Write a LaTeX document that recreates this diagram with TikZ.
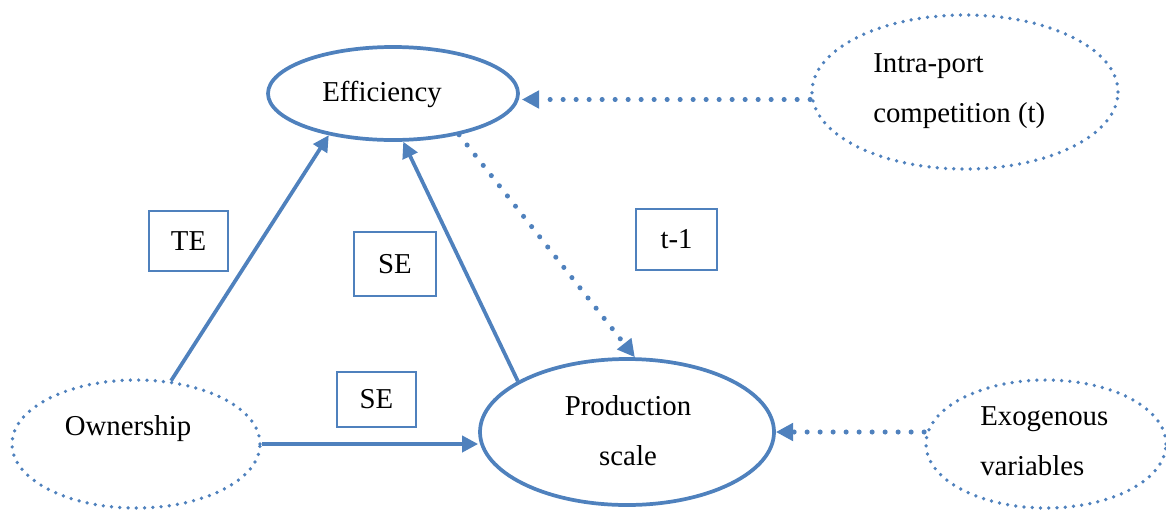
\documentclass[tikz,border=0pt]{standalone}
\usepackage{fontspec}
\setmainfont{Liberation Serif}
\usetikzlibrary{shapes.geometric,arrows.meta,calc}
\definecolor{ublue}{RGB}{79,129,189}
\begin{document}
\begin{tikzpicture}[x=0.75pt,y=-0.75pt,
  every node/.style={font=\fontsize{21.6}{26}\selectfont, text=black},
  solidell/.style={ellipse, draw=ublue, line width=2.8pt, inner sep=0pt},
  dotell/.style={ellipse, draw=ublue, line width=2.8pt, dash pattern=on 0pt off 6.2pt, line cap=round, inner sep=0pt},
  labbox/.style={rectangle, draw=ublue, line width=2pt, inner sep=0pt},
  solidarrow/.style={draw=ublue, line width=2.8pt, -{Triangle[length=12pt,width=12pt]}},
  dotarrow/.style={draw=ublue, line width=3.8pt, dash pattern=on 0pt off 9.75pt, line cap=round, -{Triangle[length=13pt,width=13pt]}},
  txt/.style={inner sep=0pt, anchor=base}
]
\useasboundingbox (0,0) rectangle (1166,511);

% ellipses
\node[solidell, minimum width=187.5pt, minimum height=69.75pt] (eff) at (393,93.5) {};
\node[dotell, minimum width=229.5pt, minimum height=115.5pt] (intra) at (965,92) {};
\node[dotell, minimum width=186pt, minimum height=96pt] (own) at (136,444) {};
\node[solidell, minimum width=220.5pt, minimum height=109.5pt] (prod) at (627,432) {};
\node[dotell, minimum width=180pt, minimum height=96pt] (exo) at (1046,444) {};

% texts
\node[txt] (efft) at (382,101) {Efficiency};
\node[txt, anchor=base west] (intrat1) at (873,72) {Intra-port};
\node[txt, anchor=base west] (intrat2) at (873,122) {competition (t)};
\node[txt] (ownt) at (128,435) {Ownership};
\node[txt] (prodt1) at (628,415) {Production};
\node[txt] (prodt2) at (628,465) {scale};
\node[txt, anchor=base west] (exot1) at (980,425) {Exogenous};
\node[txt, anchor=base west] (exot2) at (980,475) {variables};

% label boxes
\node[labbox, minimum width=59.25pt, minimum height=45pt] (te) at (188.5,241) {TE};
\node[labbox, minimum width=61.5pt, minimum height=48pt] (se1) at (395,264) {SE};
\node[labbox, minimum width=60.75pt, minimum height=45.75pt] (tm1) at (676.5,239.5) {t-1};
\node[labbox, minimum width=59.25pt, minimum height=41.25pt] (se2) at (376.5,399.5) {SE};

% solid connectors
\draw[solidarrow] (own.61.6) -- (eff.213.3);
\draw[solidarrow] (prod.155.7) -- (eff.282.8);
\draw[solidarrow] (own.east) -- (own.east -| prod.west);

% dotted connectors
\draw[dotarrow] (eff.328.9) -- (prod.84);
\coordinate (effin) at ($(eff.east)+(2,6)$);
\draw[dotarrow] (intra.west |- effin) -- (effin);
\draw[dotarrow] (exo.west |- prod.east) -- (prod.east);
\end{tikzpicture}
\end{document}
